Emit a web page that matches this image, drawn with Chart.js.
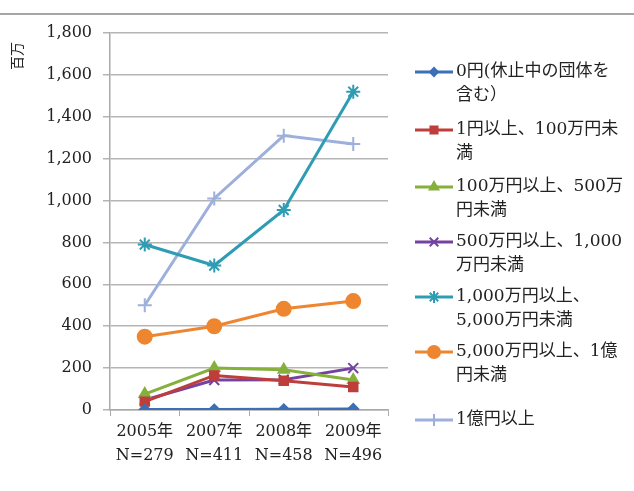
<!DOCTYPE html>
<html>
<head>
<meta charset="utf-8">
<script src="https://cdn.jsdelivr.net/npm/chart.js@4.4.1/dist/chart.umd.min.js"></script>
<style>
  body { margin: 0; background: #fff; }
</style>
</head>
<body>
<canvas id="chart" width="634" height="491"></canvas>
<script>
const years = [['2005年', 'N=279'], ['2007年', 'N=411'], ['2008年', 'N=458'], ['2009年', 'N=496']];
const yTicks = [0, 200, 400, 600, 800, 1000, 1200, 1400, 1600, 1800];

const zero = [2, 2, 3, 5];
const under100 = [40, 165, 140, 110];
const under500 = [76, 200, 192, 143];
const under1000 = [48, 143, 145, 200];
const under5000 = [790, 690, 955, 1520];
const under1oku = [350, 400, 483, 520];
const over1oku = [500, 1010, 1310, 1270];

const seriesNames = [
  ['0円(休止中の団体を', '含む）'],
  ['1円以上、100万円未', '満'],
  ['100万円以上、500万', '円未満'],
  ['500万円以上、1,000', '万円未満'],
  ['1,000万円以上、', '5,000万円未満'],
  ['5,000万円以上、1億', '円未満'],
  ['1億円以上']
];

const FONT = "'DejaVu Serif', 'Noto Sans CJK JP', serif";

const styles = [
  { color: '#3B6FB6', point: 'rectRot', r: 5 },
  { color: '#BE3E3B', point: 'rect', r: 6 },
  { color: '#86B03C', point: 'triangle', r: 6 },
  { color: '#7443A0', point: 'crossRot', r: 7 },
  { color: '#2E9DB4', point: 'star', r: 7 },
  { color: '#EE8630', point: 'circle', r: 7 },
  { color: '#9DB0DC', point: 'cross', r: 7 }
];

const allData = [zero, under100, under500, under1000, under5000, under1oku, over1oku];

const datasets = allData.map((d, i) => ({
  label: seriesNames[i].join(''),
  data: d,
  borderColor: styles[i].color,
  backgroundColor: styles[i].color,
  borderWidth: 3,
  pointStyle: styles[i].point,
  pointRadius: styles[i].r,
  pointBorderWidth: 2,
  tension: 0
}));

// legend drawn by hand so each entry can wrap onto two lines
const legendRows = [72, 130, 187, 242, 297, 352, 420];

const sideLegend = {
  id: 'sideLegend',
  afterDraw(chart) {
    const ctx = chart.ctx;
    ctx.save();
    // separator line across the top
    ctx.strokeStyle = '#888';
    ctx.lineWidth = 1.5;
    ctx.beginPath();
    ctx.moveTo(0, 14);
    ctx.lineTo(634, 14);
    ctx.stroke();

    ctx.font = '17px ' + FONT;
    ctx.textBaseline = 'middle';
    seriesNames.forEach((lines, i) => {
      const y = legendRows[i];
      const st = styles[i];
      ctx.strokeStyle = st.color;
      ctx.fillStyle = st.color;
      ctx.lineWidth = 3;
      ctx.beginPath();
      ctx.moveTo(415, y);
      ctx.lineTo(453, y);
      ctx.stroke();
      ctx.lineWidth = 2;
      Chart.helpers.drawPoint(ctx, {
        pointStyle: st.point,
        radius: st.r - 1,
        rotation: 0,
        borderWidth: 2
      }, 434, y);
      ctx.fillStyle = '#222';
      lines.forEach((t, j) => {
        ctx.fillText(t, 456, y + j * 24);
      });
    });
    ctx.restore();
  }
};

new Chart(document.getElementById('chart'), {
  type: 'line',
  data: { labels: years, datasets: datasets },
  plugins: [sideLegend],
  options: {
    responsive: false,
    animation: false,
    layout: { padding: { left: 0, top: 33, right: 246, bottom: 12 } },
    plugins: {
      legend: { display: false },
      tooltip: { enabled: false }
    },
    scales: {
      x: {
        offset: true,
        grid: {
          offset: true,
          drawOnChartArea: false,
          color: '#aaa',
          tickLength: 6
        },
        border: { color: '#aaa', width: 1.5 },
        ticks: {
          color: '#222',
          font: { family: FONT, size: 16, lineHeight: 1.55 },
          padding: 3,
          maxRotation: 0
        },
        afterFit(scale) { scale.height = 69; }
      },
      y: {
        min: 0,
        max: 1800,
        afterBuildTicks(scale) { scale.ticks = yTicks.map(v => ({ value: v })); },
        grid: { color: '#b5b5b5', lineWidth: 1.5, tickLength: 7 },
        border: { color: '#aaa', width: 1.5 },
        ticks: {
          color: '#222',
          font: { family: FONT, size: 16 },
          padding: 11,
          callback: v => v.toLocaleString('en-US')
        },
        title: {
          display: true,
          text: '百万  ',
          align: 'end',
          color: '#222',
          font: { family: FONT, size: 14 },
          padding: { top: 10, bottom: 0 }
        },
        afterFit(scale) { scale.width = 110; }
      }
    }
  }
});
</script>
</body>
</html>
